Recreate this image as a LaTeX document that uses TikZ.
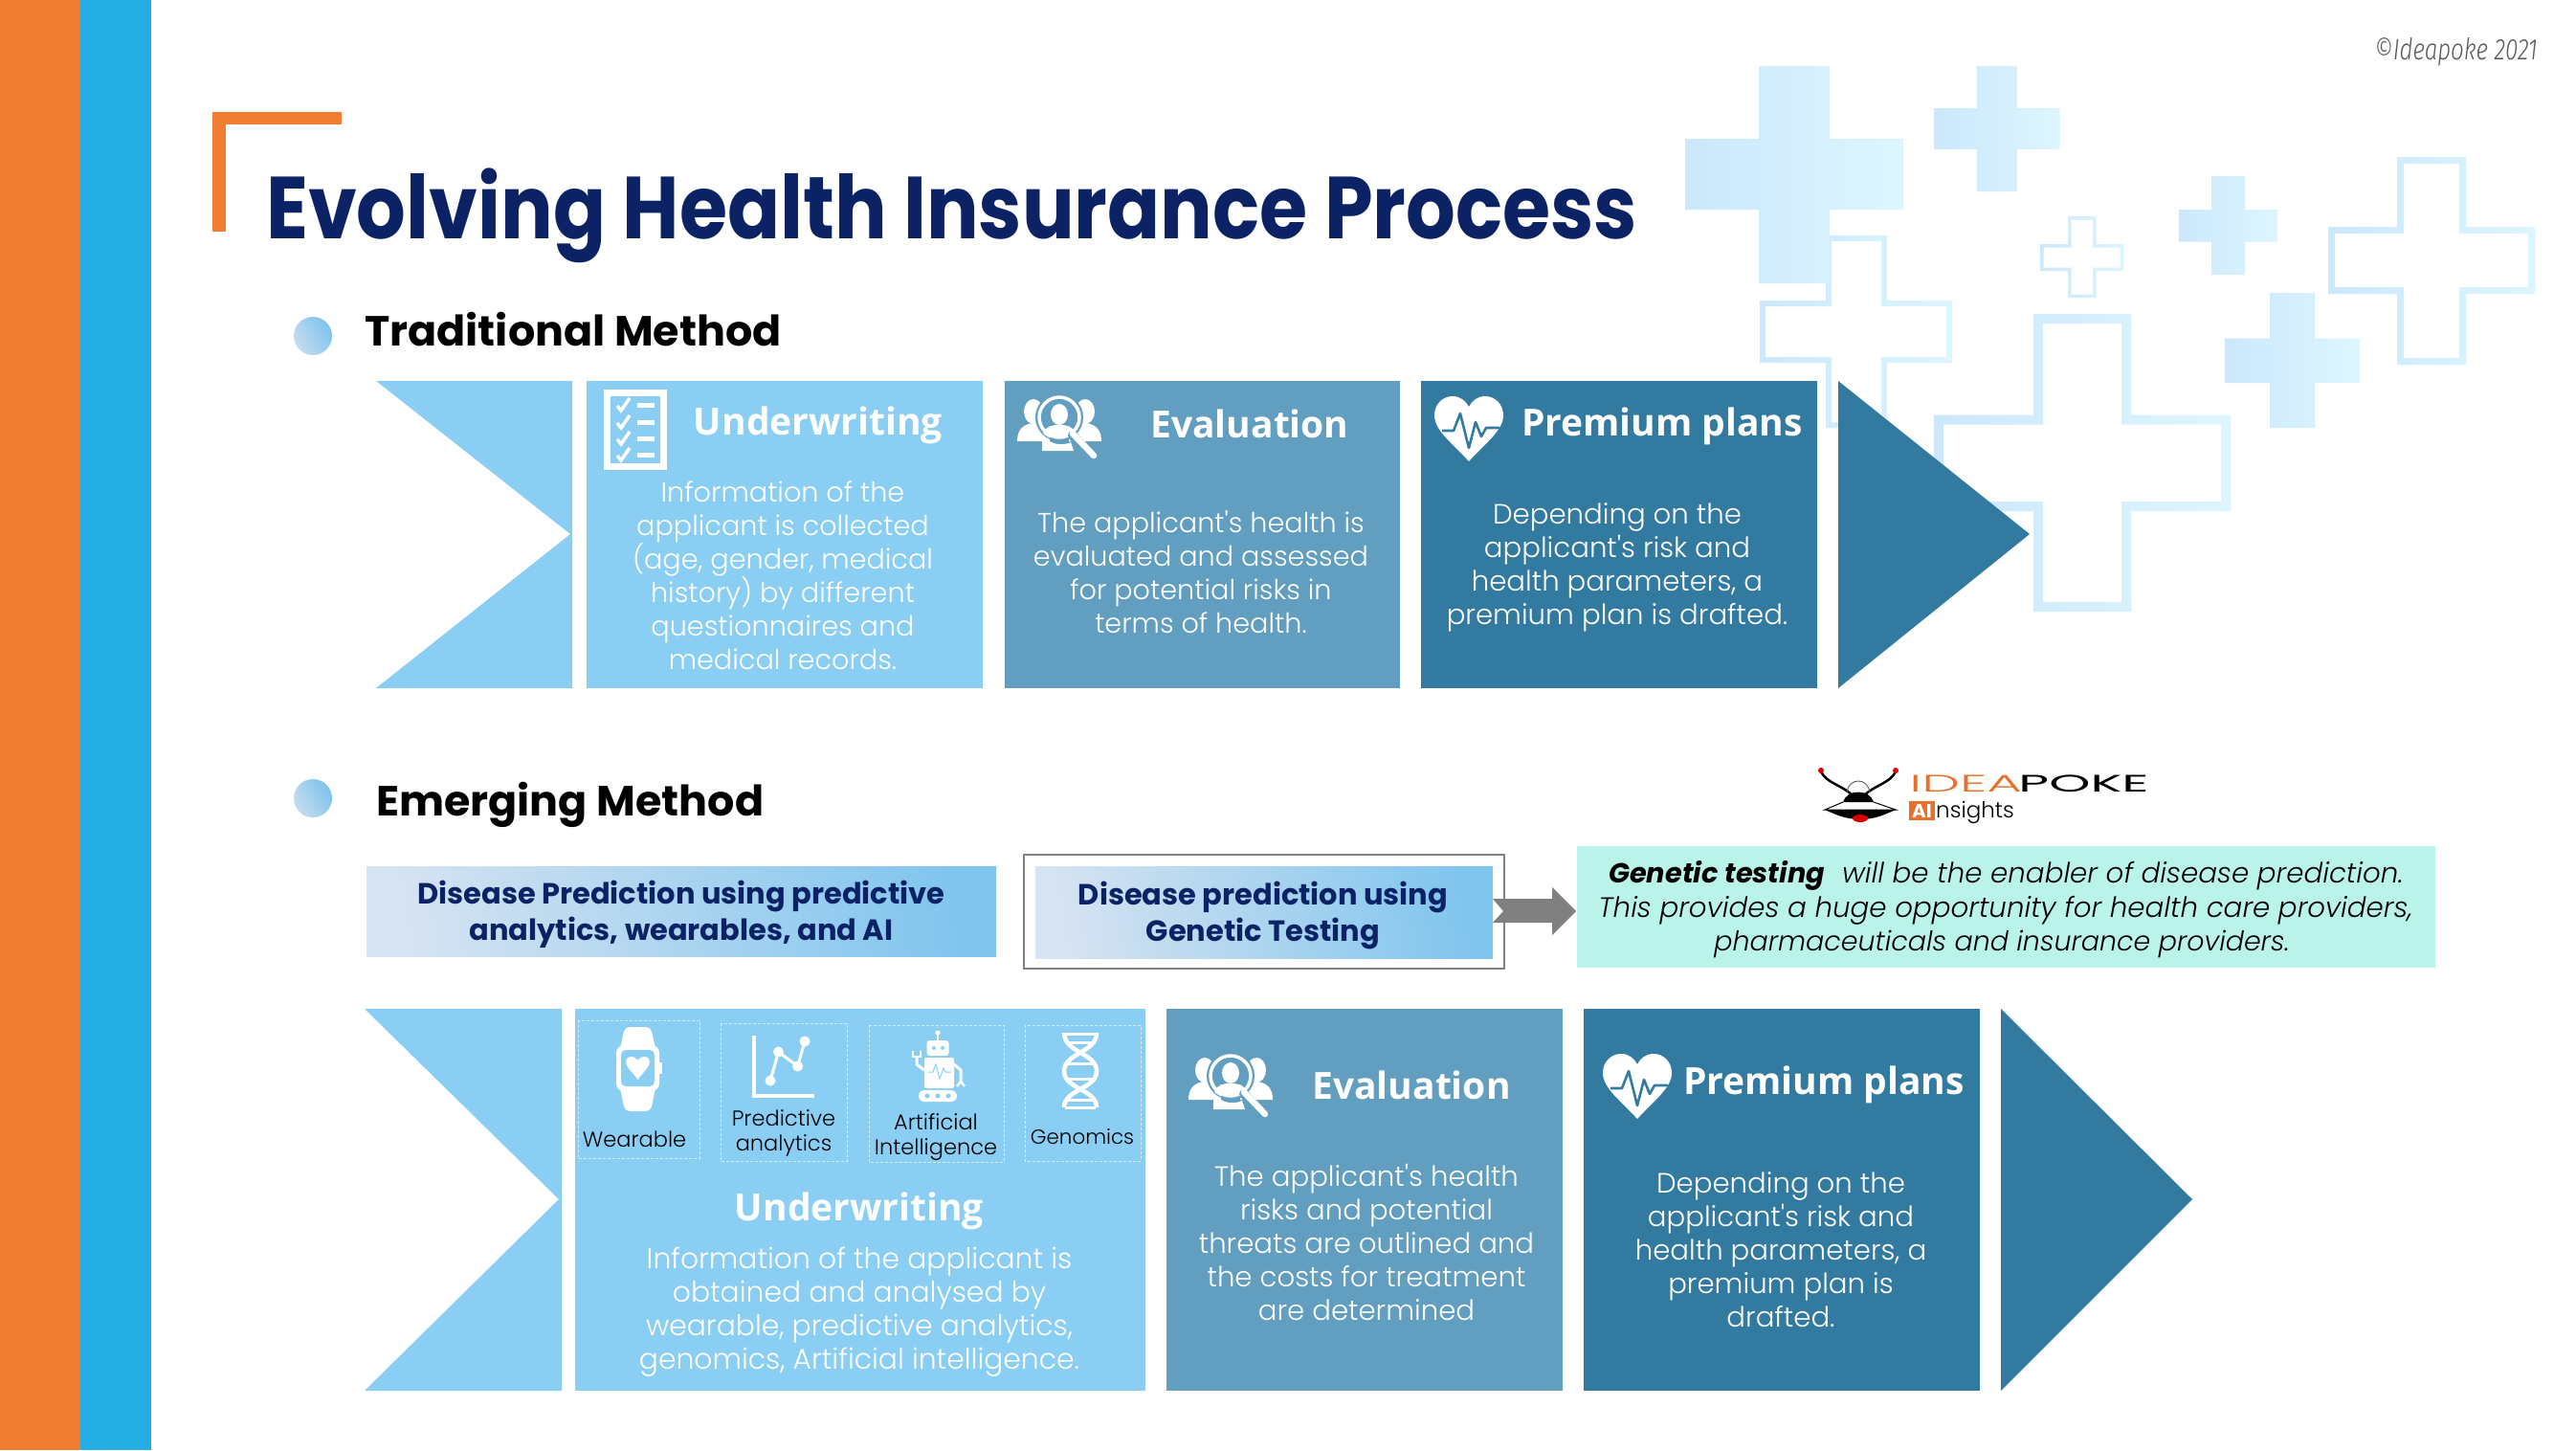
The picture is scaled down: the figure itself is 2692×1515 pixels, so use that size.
\documentclass[tikz,border=0pt]{standalone}
\usepackage{fontspec}
\usetikzlibrary{calc}
\setmainfont{Poppins Light}
\newfontfamily\bodyf{Poppins Light}
\newfontfamily\italf{Poppins Light Italic}
\newfontfamily\boldf{Poppins}[BoldFont={Poppins Bold},ItalicFont={Poppins Italic},BoldItalicFont={Poppins Bold Italic}]
\newfontfamily\headf{Open Sans}[BoldFont={Open Sans Bold}]
\newfontfamily\markf{Fira Sans}[ItalicFont={Fira Sans Light Italic}]
\definecolor{navy}{HTML}{0B2265}
\definecolor{lightpanel}{HTML}{8ACFF3}
\definecolor{midpanel}{HTML}{619EBF}
\definecolor{darkpanel}{HTML}{337AA0}
\definecolor{barorange}{HTML}{F07D32}
\definecolor{barblue}{HTML}{24AEE3}
\definecolor{teal}{HTML}{BAF3E9}
\definecolor{crossL}{HTML}{CBE8FC}
\definecolor{crossR}{HTML}{DDF5FF}
\definecolor{logoorange}{HTML}{E8702A}
\definecolor{calloutL}{HTML}{D6E3F1}
\definecolor{calloutR}{HTML}{80C5EE}
\definecolor{bulletL}{HTML}{C5DCF0}
\definecolor{bulletR}{HTML}{7EC3EC}
\tikzset{
  body/.style={font=\bodyf\fontsize{29.2}{35}\selectfont,text=white,align=center,anchor=base,inner sep=0pt},
  bodya/.style={font=\bodyf\fontsize{28.7}{35}\selectfont,text=white,align=center,anchor=base,inner sep=0pt},
  bodyb/.style={font=\bodyf\fontsize{29.8}{35}\selectfont,text=white,align=center,anchor=base,inner sep=0pt},
  head/.style={font=\headf\bfseries\fontsize{39}{40}\selectfont,text=white,anchor=base,inner sep=0pt},
  section/.style={font=\boldf\bfseries\fontsize{44}{46}\selectfont,text=black,anchor=base west,inner sep=0pt,xscale=1.01},
  bluetext/.style={font=\boldf\bfseries\fontsize{30.5}{38}\selectfont,text=navy,align=center,anchor=base,inner sep=0pt},
  teach/.style={font=\italf\fontsize{29.3}{35}\selectfont,text=black,anchor=base,inner sep=0pt},
  iconlabel/.style={font=\bodyf\fontsize{22.5}{26}\selectfont,text=black,align=center,anchor=base,inner sep=0pt},
  dashbox/.style={draw=white!65!lightpanel,line width=1pt,dash pattern=on 3pt off 2pt},
  bluebox/.style={left color=calloutL,right color=calloutR,shading angle=100},
  bullet/.style={circle,minimum size=40pt,inner sep=0pt,left color=bulletL,right color=bulletR,shading angle=120},
}
% outlined cross: {hx1}{hx2}{hy1}{hy2}{vx1}{vx2}{vy1}{vy2}{t}
\newcommand{\plusoutline}[8]{(#5,#7)--(#6,#7)--(#6,#3)--(#2,#3)--(#2,#4)--(#6,#4)--(#6,#8)--(#5,#8)--(#5,#4)--(#1,#4)--(#1,#3)--(#5,#3)--cycle}
\newcommand{\plusfill}[8]{\shade[left color=crossL,right color=crossR] \plusoutline{#1}{#2}{#3}{#4}{#5}{#6}{#7}{#8};}
\newcommand{\plusline}[9]{\shade[left color=crossL,right color=crossR,even odd rule]
  \plusoutline{#1}{#2}{#3}{#4}{#5}{#6}{#7}{#8}
  ($(#5,#7)+(#9,#9)$)--($(#6,#7)+(-#9,#9)$)--($(#6,#3)+(-#9,#9)$)--($(#2,#3)+(-#9,#9)$)--($(#2,#4)+(-#9,-#9)$)--($(#6,#4)+(-#9,-#9)$)--($(#6,#8)+(-#9,-#9)$)--($(#5,#8)+(#9,-#9)$)--($(#5,#4)+(#9,-#9)$)--($(#1,#4)+(#9,-#9)$)--($(#1,#3)+(#9,#9)$)--($(#5,#3)+(#9,#9)$)--cycle;}
% evaluation icon, 88 x 64 box
\newcommand{\iconeval}[3]{\begin{scope}[shift={(#1,#2)}]
  \fill[white] (17,15) ellipse (10 and 13);
  \fill[white] (71,15) ellipse (10 and 13);
  \fill[white] (0,46) .. controls (0,32) and (8,28) .. (17,27) .. controls (26,28) and (34,32) .. (34,46) -- cycle;
  \fill[white] (54,46) .. controls (54,32) and (62,28) .. (71,27) .. controls (80,28) and (88,32) .. (88,46) -- cycle;
  \fill[#3] (44,21) circle (25);
  \fill[white] (44,18) ellipse (9 and 11);
  \fill[white] (27,38) .. controls (30,30) and (36,29) .. (44,29) .. controls (52,29) and (58,30) .. (61,38) -- (55,42) -- (33,42) -- cycle;
  \draw[white,line width=3.5pt] (44,21) circle (21);
  \fill[white] (26,46) -- (34,46) .. controls (40,50) and (50,50) .. (56,47) -- (59,56) -- (26,56) -- cycle;
  \draw[#3,line width=10pt,line cap=round] (58,40) -- (76,60);
  \draw[white,line width=6.5pt,line cap=round] (58,38) -- (80,61);
\end{scope}}
% heart icon, 72 x 68 box
\newcommand{\iconheart}[3]{\begin{scope}[shift={(#1,#2)}]
  \fill[white] (36,68) .. controls (20,50) and (0,36) .. (0,20) .. controls (0,8) and (9,0) .. (19,0) .. controls (27,0) and (33,5) .. (36,11) .. controls (39,5) and (45,0) .. (53,0) .. controls (63,0) and (72,8) .. (72,20) .. controls (72,36) and (52,50) .. (36,68) -- cycle;
  \draw[#3,line width=2.6pt,line join=round] (8,36) -- (20,36) -- (27,18) -- (36,54) -- (43,27) -- (49,42) -- (54,33) -- (68,33);
\end{scope}}
\newcommand{\chk}[1]{\draw[white,line width=3.5pt] (645,#1+1) -- (649,#1+6) -- (658,#1-7); \fill[white] (666,#1-2.5) rectangle (684,#1+2.5);}
\begin{document}
\begin{tikzpicture}[x=1pt,y=-1pt]
\useasboundingbox (0,0) rectangle (2692,1515);
\fill[white] (0,0) rectangle (2692,1515);
% side bars
\fill[barorange] (0,0) rectangle (84,1515);
\fill[barblue] (84,0) rectangle (158,1515);
% background crosses
\plusline{1839}{2040}{314}{379}{1908}{1972}{246}{447}{6}
\plusline{2021}{2331}{433.5}{534}{2125}{2227}{328}{639}{10}
\plusline{2433}{2649}{237}{307}{2505}{2577}{164}{381}{7}
\plusline{2132}{2219}{255}{283}{2161}{2190.5}{226}{311}{3.5}
\plusfill{1761}{1989}{145}{219}{1838}{1912}{69}{296}
\plusfill{2021.5}{2152.5}{113}{156}{2066}{2108}{69}{200}
\plusfill{2277}{2380}{219}{252.5}{2311}{2346}{184}{287}
\plusfill{2325}{2466}{353.5}{400}{2372}{2419}{306}{447}
% title bracket
\fill[barorange] (222,117) rectangle (357,130);
\fill[barorange] (222,117) rectangle (236,242);
\node[font=\boldf\bfseries\fontsize{92}{100}\selectfont,text=navy,anchor=base west,inner sep=0pt,xscale=0.883] (title) at (278,249) {Evolving Health Insurance Process};
\node[font=\markf\itshape\fontsize{31}{33}\selectfont,text=black!65,anchor=base west,inner sep=0pt,xscale=0.78] (mark) at (2481,62) {©Ideapoke 2021};
% section heads
\node[bullet] (b1) at (327,351) {};
\node[section] (s1) at (381,361) {Traditional Method};
\node[bullet] (b2) at (327,834) {};
\node[section] (s2) at (393,852) {Emerging Method};
% traditional row
\fill[lightpanel] (393,398) -- (598,398) -- (598,719) -- (393,719) -- (596,558) -- cycle;
\fill[lightpanel] (613,398) rectangle (1027,719);
\fill[midpanel] (1050,398) rectangle (1463,719);
\fill[darkpanel] (1485,398) rectangle (1899,719);
\fill[darkpanel] (1921,398) -- (2121,558) -- (1921,719) -- cycle;
% checklist icon
\draw[white,line width=7pt] (634,410.5) rectangle (693,487.5);
\chk{423}\chk{441}\chk{458}\chk{475}
\node[head] (h1) at (855,454) {Underwriting};
\node[bodya] (t1a) at (818,699) {Information of the\\applicant is collected\\(age, gender, medical\\history) by different\\questionnaires and\\medical records.};
\iconeval{1063}{415}{midpanel}
\node[head] (h2) at (1306,457) {Evaluation};
\node[bodya] (t2) at (1255,661) {The applicant's health is\\evaluated and assessed\\for potential risks in\\terms of health.};
\iconheart{1499}{414}{darkpanel}
\node[head] (h3) at (1737,455) {Premium plans};
\node[body] (t3) at (1690,652) {Depending on the\\applicant's risk and\\health parameters, a\\premium plan is drafted.};
% callouts
\shade[bluebox] (383,905) rectangle (1041,999);
\node[bluetext] (p1) at (712,982) {Disease Prediction using predictive\\analytics, wearables, and AI};
\draw[black!50,line width=1.5pt,fill=white] (1070,893) rectangle (1572,1012);
\shade[bluebox] (1082,905) rectangle (1560,1001);
\node[bluetext] (p2) at (1320,983) {Disease prediction using\\Genetic Testing};
\fill[black!50] (1560,939) -- (1622,939) -- (1622,927) -- (1647,952) -- (1622,977) -- (1622,964) -- (1560,964) -- (1571,952) -- cycle;
\fill[teal] (1648,884) rectangle (2545,1011);
\node[teach,font=\boldf\bfseries\itshape\fontsize{28.8}{35}\selectfont,anchor=base west] (g1) at (1681,922) {Genetic testing};
\node[teach,anchor=base east] (g2) at (2512,922) {will be the enabler of disease prediction.};
\node[teach] (g3) at (2096,958) {This provides a huge opportunity for health care providers,};
\node[teach,font=\italf\fontsize{28.5}{35}\selectfont] (g4) at (2092,993) {pharmaceuticals and insurance providers.};
% logo
\draw[black,line width=2.5pt] (1903,806) .. controls (1908,818) and (1925,820) .. (1937,832);
\draw[black,line width=2.5pt] (1981,806) .. controls (1976,818) and (1959,820) .. (1947,832);
\fill[red!85!black] (1903,805) circle (3);
\fill[red!85!black] (1981,805) circle (3);
\draw[black!60,line width=1pt] (1930,828) .. controls (1932,812) and (1952,812) .. (1954,828);
\fill[black] (1926,838) .. controls (1930,824) and (1954,824) .. (1958,838) -- cycle;
\draw[black,line width=1pt] (1926,838) -- (1907,846) -- (1981,846) -- (1958,838);
\fill[black] (1907,846) .. controls (1920,852) and (1930,856) .. (1944,856) .. controls (1958,856) and (1968,852) .. (1981,846) -- cycle;
\fill[red!85!black] (1944,855) ellipse (8 and 4);
\node[font=\bodyf\fontsize{25}{26}\selectfont,text=logoorange,anchor=base west,inner sep=0pt,xscale=2.25] (lg1) at (1995,827) {IDEA};
\node[font=\boldf\fontsize{25}{26}\selectfont,text=black,anchor=base west,inner sep=0pt,xscale=2.2] (lg2) at (2109,827) {POKE};
\fill[logoorange] (1995,837) rectangle (2022,857);
\node[font=\boldf\bfseries\fontsize{20}{22}\selectfont,text=white,anchor=base,inner sep=0pt] (lg3) at (2008.5,854) {AI};
\node[font=\bodyf\fontsize{23}{26}\selectfont,text=black,anchor=base west,inner sep=0pt] (lg4) at (2023,854) {nsights};
% emerging row
\fill[lightpanel] (381,1054) -- (587,1054) -- (587,1453) -- (381,1453) -- (584,1253) -- cycle;
\fill[lightpanel] (601,1054) rectangle (1197,1453);
\fill[midpanel] (1219,1054) rectangle (1633,1453);
\fill[darkpanel] (1655,1054) rectangle (2069,1453);
\fill[darkpanel] (2091,1054) -- (2291,1253) -- (2091,1453) -- cycle;
% dashed cells
\draw[dashbox] (604,1066) rectangle (731,1210);
\draw[dashbox] (753,1069) rectangle (885,1213);
\draw[dashbox] (908,1071) rectangle (1049,1214);
\draw[dashbox] (1071,1071) rectangle (1192,1213);
% watch
\fill[white,rounded corners=5pt] (653,1073) -- (680,1073) -- (686,1100) -- (686,1132) -- (680,1161) -- (653,1161) -- (647,1132) -- (647,1100) -- cycle;
\fill[white,rounded corners=8pt] (644,1092) rectangle (689,1140);
\fill[white] (689,1110) rectangle (692,1122);
\fill[lightpanel,rounded corners=5pt] (649,1097) rectangle (684,1135);
\fill[white] (666.5,1128) .. controls (661,1120) and (654,1115) .. (654,1109) .. controls (654,1103) and (663,1102) .. (666.5,1108) .. controls (670,1102) and (679,1103) .. (679,1109) .. controls (679,1115) and (672,1120) .. (666.5,1128) -- cycle;
% chart
\draw[white,line width=4pt] (788,1082) -- (788,1145) -- (851,1145);
\draw[white,line width=3pt] (805,1129) -- (813.5,1099) -- (833.6,1114) -- (841,1088);
\foreach \p in {(805,1129),(813.5,1099),(833.6,1114),(841,1088)} \fill[white] \p circle (5.5);
% robot
\fill[white] (980,1079) circle (2.5);
\draw[white,line width=2pt] (980,1079) -- (980,1088);
\fill[white,rounded corners=3pt] (968.5,1087) rectangle (991.5,1103);
\fill[lightpanel] (976,1095) circle (2);
\fill[lightpanel] (985,1095) circle (2);
\fill[white,rounded corners=2pt] (966,1105) rectangle (997,1137);
\draw[lightpanel,line width=1pt] (970,1120) -- (975,1120) -- (978,1112) -- (982,1127) -- (986,1116) -- (988,1120) -- (994,1120);
\draw[white,line width=3pt] (966,1118) -- (958,1112) -- (958,1104);
\draw[white,line width=2pt] (954,1098) -- (954,1104) -- (962,1104) -- (962,1098);
\draw[white,line width=3pt] (997,1112) -- (1004,1118) -- (1004,1130);
\draw[white,line width=2.5pt] (1000,1135) -- (1004,1130) -- (1008,1135);
\fill[white,rounded corners=6pt] (960,1139) rectangle (1000,1151);
\foreach \q in {969,980,991} \fill[lightpanel] (\q,1145) circle (2.5);
% dna
\draw[white,line width=4.5pt] (1112,1079) .. controls (1112,1100) and (1146,1100) .. (1146,1119) .. controls (1146,1138) and (1112,1138) .. (1112,1157);
\draw[white,line width=4.5pt] (1146,1079) .. controls (1146,1100) and (1112,1100) .. (1112,1119) .. controls (1112,1138) and (1146,1138) .. (1146,1157);
\foreach \r in {1080,1089,1111,1127,1149,1157} \draw[white,line width=3pt] (1113,\r) -- (1145,\r);
\node[iconlabel] (w) at (663,1198) {Wearable};
\node[iconlabel] (pa) at (819,1202) {Predictive\\analytics};
\node[iconlabel] (ai) at (978,1206) {Artificial\\Intelligence};
\node[iconlabel,font=\bodyf\fontsize{21.4}{26}\selectfont] (ge) at (1131,1195) {Genomics};
\node[head] (h4) at (898,1275) {Underwriting};
\node[bodyb] (t4) at (898,1430) {Information of the applicant is\\obtained and analysed by\\wearable, predictive analytics,\\genomics, Artificial intelligence.};
\iconeval{1242}{1103}{midpanel}
\node[head] (h5) at (1475,1148) {Evaluation};
\node[body] (t5) at (1428,1379) {The applicant's health\\risks and potential\\threats are outlined and\\the costs for treatment\\are determined};
\iconheart{1675}{1101}{darkpanel}
\node[head] (h6) at (1906,1143) {Premium plans};
\node[body] (t6) at (1861,1386) {Depending on the\\applicant's risk and\\health parameters, a\\premium plan is\\drafted.};
\end{tikzpicture}
\end{document}
